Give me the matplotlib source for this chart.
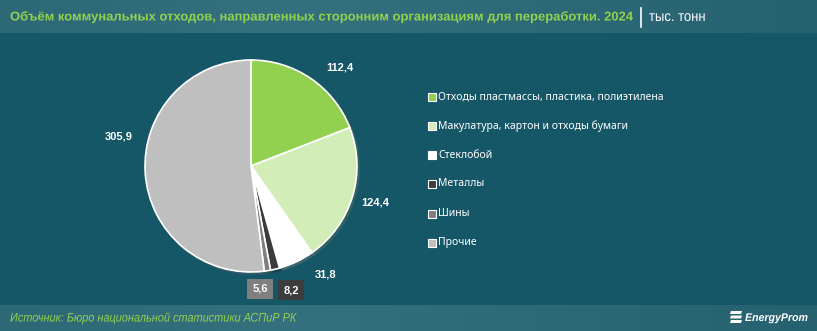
import matplotlib as mpl
mpl.use('Agg')
import matplotlib.pyplot as plt
from matplotlib.patches import Rectangle, Polygon
from matplotlib.patheffects import AbstractPathEffect
from matplotlib.transforms import Affine2D
import numpy as np

plt.rcParams['font.family'] = ['Noto Sans', 'DejaVu Sans']

categories = ['Отходы пластмассы, пластика, полиэтилена',
              'Макулатура, картон и отходы бумаги',
              'Стеклобой',
              'Металлы',
              'Шины',
              'Прочие']
values = [112.4, 124.4, 31.8, 8.2, 5.6, 305.9]
colors = ['#92d050', '#d3edb9', '#ffffff', '#3c3c3c', '#7f7f7f', '#bfbfbf']
value_labels = ['112,4', '124,4', '31,8', '8,2', '5,6', '305,9']

W, H = 817, 331
bg = '#165767'


class Squeeze(AbstractPathEffect):
    """Scale a text horizontally around its left edge."""
    def __init__(self, sx):
        super().__init__()
        self.sx = sx

    def draw_path(self, renderer, gc, tpath, affine, rgbFace=None):
        x0 = affine.get_matrix()[0, 2]
        aff = affine + Affine2D().translate(-x0, 0).scale(self.sx, 1).translate(x0, 0)
        renderer.draw_path(gc, tpath, aff, rgbFace)


fig = plt.figure(figsize=(W / 100, H / 100), dpi=100)
fig.patch.set_facecolor(bg)

# header and footer bands with a soft horizontal gradient
grad = np.linspace(0, 1, 256)
grad = 1 - np.abs(grad - 0.35) * 1.2
cmap = mpl.colors.LinearSegmentedColormap.from_list('band', ['#25616f', '#34707e'])
for y0, h in [(0, 33), (305, 26)]:
    bax = fig.add_axes([0, 1 - (y0 + h) / H, 1, h / H])
    bax.imshow(grad[None, :], aspect='auto', cmap=cmap, extent=[0, 1, 0, 1])
    bax.set_axis_off()

narrow = []  # (text, width in px it should take)
t = fig.text(10 / W, 1 - 17 / H,
             'Объём коммунальных отходов, направленных сторонним организациям для переработки. 2024',
             color='#92d050', fontsize=9.2, fontweight='bold', va='center',
             family=['Liberation Sans', 'DejaVu Sans'])
narrow.append((t, 624))
fig.add_artist(plt.Line2D([641 / W, 641 / W], [1 - 8 / H, 1 - 27 / H], color='white', lw=1.2))
t = fig.text(649 / W, 1 - 17 / H, 'тыс. тонн', color='white', fontsize=10.5, va='center',
             family=['Liberation Sans', 'DejaVu Sans'])
narrow.append((t, 57))

# pie
cx, cy, r = 251, 166, 106
ax = fig.add_axes([(cx - r) / W, 1 - (cy + r) / H, 2 * r / W, 2 * r / H])
ax.set_axis_off()
ax.pie(values, colors=colors, startangle=90, counterclock=False, radius=1.0,
       wedgeprops=dict(edgecolor='white', linewidth=1.2),
       shadow=dict(ox=0.015, oy=-0.015, shade=0.5, alpha=0.25))
ax.set_xlim(-1, 1)
ax.set_ylim(-1, 1)

label_pos = [(0.84, 0.93), (1.17, -0.34), (0.70, -1.02),
             (0.38, -1.17), (0.085, -1.16), (-1.25, 0.28)]
for i, (lab, (x, y)) in enumerate(zip(value_labels, label_pos)):
    kw = dict(color='white', fontsize=8, fontweight='bold', ha='center', va='center',
              clip_on=False, family=['Liberation Sans', 'DejaVu Sans'])
    if i in (3, 4):
        kw['bbox'] = dict(boxstyle='square,pad=0.45', fc=colors[i], ec='none')
    ax.text(x, y, lab, **kw)

# legend
ly = [97, 126, 155, 184, 214, 243]
for c, lab, y in zip(colors, categories, ly):
    fig.patches.append(Rectangle((428 / W, 1 - (y + 4) / H), 8 / W, 8 / H,
                                 transform=fig.transFigure, fc=c, ec='white', lw=0.8))
    fig.text(438 / W, 1 - y / H, lab, color='white', fontsize=7.5, va='center')

# footer
t = fig.text(10 / W, 1 - 318 / H, 'Источник: Бюро национальной статистики АСПиР РК',
             color='#92d050', fontsize=9, style='italic', va='center',
             family=['Liberation Sans', 'DejaVu Sans'])
narrow.append((t, 287))
for k in range(3):
    yb = 1 - (311 + k * 4.5) / H
    fig.patches.append(Polygon([(731 / W, yb), (742 / W, yb), (741 / W, yb - 3 / H),
                                (730 / W, yb - 3 / H)], closed=True,
                               transform=fig.transFigure, fc='white', ec='none'))
t = fig.text(745 / W, 1 - 318 / H, 'EnergyProm', color='white', fontsize=8,
             fontweight='bold', style='italic', va='center',
             family=['Liberation Sans', 'DejaVu Sans'])
narrow.append((t, 63))

fig.canvas.draw()
rend = fig.canvas.get_renderer()
for t, target in narrow:
    w = t.get_window_extent(rend).width
    t.set_path_effects([Squeeze(target / w)])

fig.savefig('out.png', dpi=100, facecolor=fig.get_facecolor())
